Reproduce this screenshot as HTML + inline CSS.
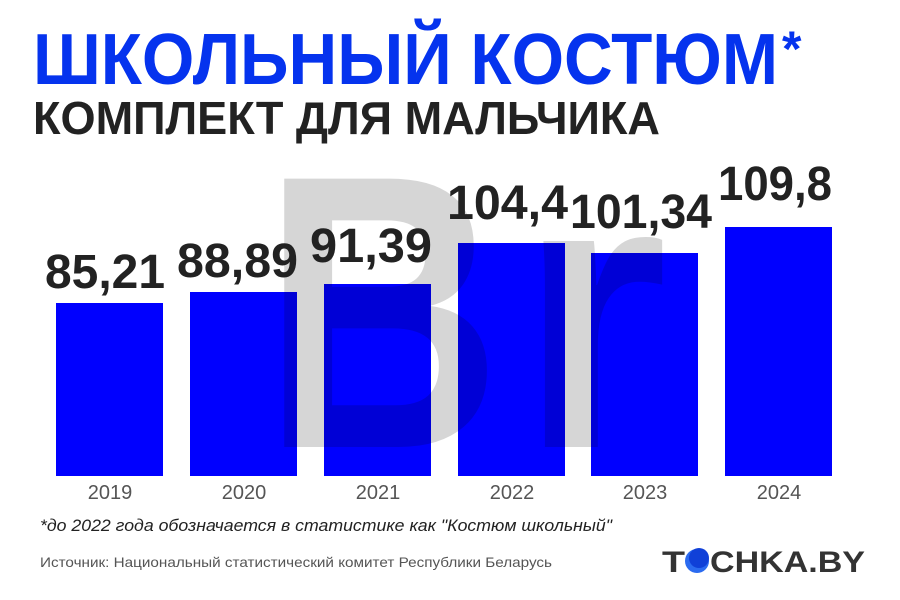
<!DOCTYPE html>
<html><head><meta charset="utf-8"><style>body{margin:0;background:#fff}svg{display:block}</style></head>
<body>
<svg width="900" height="600" xmlns="http://www.w3.org/2000/svg" font-family="Liberation Sans, sans-serif">
<rect width="900" height="600" fill="#fff"/>
<text x="33" y="84" font-size="72" font-weight="bold" fill="#0533ee" textLength="745" lengthAdjust="spacingAndGlyphs">ШКОЛЬНЫЙ КОСТЮМ</text>
<text x="782" y="66" font-size="50" font-weight="bold" fill="#0533ee">*</text>
<text x="33" y="134" font-size="46" font-weight="bold" fill="#222" textLength="627" lengthAdjust="spacingAndGlyphs">КОМПЛЕКТ ДЛЯ МАЛЬЧИКА</text>
<g fill="#0000ff">
<rect x="56" y="303" width="107" height="173"/>
<rect x="190" y="292" width="107" height="184"/>
<rect x="324" y="284" width="107" height="192"/>
<rect x="458" y="243" width="107" height="233"/>
<rect x="591" y="253" width="107" height="223"/>
<rect x="725" y="227" width="107" height="249"/>
</g>
<text x="262" y="447" font-size="390" font-weight="bold" fill="rgba(0,0,0,0.16)" textLength="240" lengthAdjust="spacingAndGlyphs">B</text>
<text x="518" y="447" font-size="390" font-weight="bold" fill="rgba(0,0,0,0.16)" textLength="150" lengthAdjust="spacingAndGlyphs">r</text>
<g font-size="48" font-weight="bold" fill="#222">
<text x="45" y="288" textLength="120" lengthAdjust="spacingAndGlyphs">85,21</text>
<text x="177" y="277" textLength="121" lengthAdjust="spacingAndGlyphs">88,89</text>
<text x="310" y="262" textLength="122" lengthAdjust="spacingAndGlyphs">91,39</text>
<text x="447" y="219" textLength="121" lengthAdjust="spacingAndGlyphs">104,4</text>
<text x="570" y="228" textLength="142" lengthAdjust="spacingAndGlyphs">101,34</text>
<text x="718" y="200" textLength="114" lengthAdjust="spacingAndGlyphs">109,8</text>
</g>
<g font-size="20" fill="#555" text-anchor="middle">
<text x="110" y="499">2019</text><text x="244" y="499">2020</text><text x="378" y="499">2021</text>
<text x="512" y="499">2022</text><text x="645" y="499">2023</text><text x="779" y="499">2024</text>
</g>
<text x="40" y="531" font-size="17" font-style="italic" fill="#222" textLength="572" lengthAdjust="spacingAndGlyphs">*до 2022 года обозначается в статистике как "Костюм школьный"</text>
<text x="40" y="567" font-size="14" fill="#555" textLength="512" lengthAdjust="spacingAndGlyphs">Источник: Национальный статистический комитет Республики Беларусь</text>
<circle cx="697" cy="561" r="12" fill="#2b6bf0"/>
<circle cx="699" cy="558" r="10" fill="#1040d8"/>
<text x="662" y="572" font-size="30" font-weight="bold" fill="#333" textLength="23" lengthAdjust="spacingAndGlyphs">T</text>
<text x="710" y="572" font-size="30" font-weight="bold" fill="#333" textLength="155" lengthAdjust="spacingAndGlyphs">CHKA.BY</text>
</svg>
</body></html>
